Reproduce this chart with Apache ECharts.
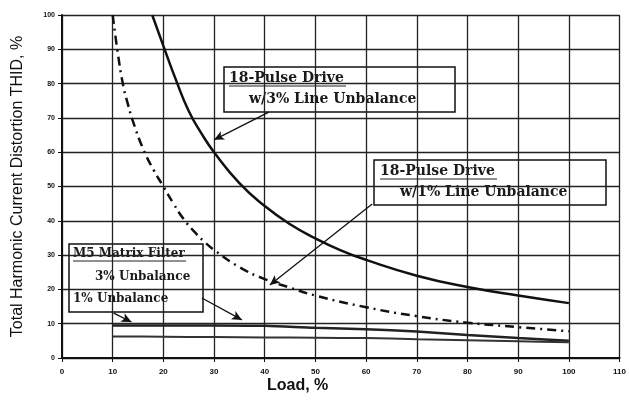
<!DOCTYPE html>
<html>
<head>
<meta charset="utf-8">
<script src="https://cdn.jsdelivr.net/npm/echarts@6/dist/echarts.min.js"></script>
<style>
html,body{margin:0;padding:0;background:#fff;}
#c{width:629px;height:402px;}
</style>
</head>
<body>
<div id="c"></div>
<script>
// ---- data ----
const xTicks = [0,10,20,30,40,50,60,70,80,90,100,110];
const yTicks = [0,10,20,30,40,50,60,70,80,90,100];

// 18-Pulse Drive w/3% Line Unbalance (solid)
const load3 = [17.8,20,22.5,25,27.5,30,35,40,45,50,55,60,70,80,90,100];
const thid3 = [100,91,81,72,65.5,60,51,44.3,39,34.9,31.4,28.6,24,20.7,18.2,16];

// 18-Pulse Drive w/1% Line Unbalance (dash-dot)
const load1 = [10,11,12,13,14,16,18,20,22,24,26,28,30,35,40,45,50,60,70,80,90,100];
const thid1 = [100,89,80,74,69,61,55,50,45,40.5,37,34,31.5,26.5,23,20.5,18.2,14.8,12.2,10.3,9,7.8];

// M5 Matrix Filter
const loadM5 = [10,20,30,40,50,60,70,80,90,100];
const m5_3 = [9.5,9.5,9.5,9.4,8.8,8.4,7.7,6.7,5.8,5.0];
const m5_1 = [6.3,6.2,6.1,6.0,5.9,5.8,5.5,5.2,4.9,4.6];

// annotation arrows [fromLoad, fromTHID, toLoad, toTHID]
const arrows = [
  [40.8,71.7,30,63.6],
  [61.2,44.9,41,21.3],
  [27.6,17.5,35.5,11.1],
  [10.2,13.1,13.7,10.5]
];

const pairs = (xs, ys) => xs.map((x,i)=>[x, ys[i]]);

const chart = echarts.init(document.getElementById('c'), null, {renderer:'canvas'});
const serif = '"DejaVu Serif", serif';

function box(x,y,w,h,lines){
  const children = [{type:'rect', shape:{x:0,y:0,width:w,height:h},
    style:{fill:'#fff', stroke:'#111', lineWidth:1.5}}];
  lines.forEach(l=>{
    children.push({type:'text', x:l.x, y:l.y, style:{text:l.t, font:'bold '+l.s+'px '+serif, fill:'#1a1a1a', textVerticalAlign:'top'}});
    if(l.u){children.push({type:'line', shape:{x1:l.x,y1:l.y+l.s+1,x2:l.x+l.u,y2:l.y+l.s+1}, style:{stroke:'#222', lineWidth:1}});}
  });
  return {type:'group', x:x, y:y, z:100, children:children};
}

const option = {
  animation:false,
  backgroundColor:'#fff',
  grid:{left:62, right:6, top:15, bottom:44},
  xAxis:{type:'value', min:0, max:110, interval:10,
    axisLine:{lineStyle:{color:'#111', width:2}},
    axisTick:{show:true, length:4, lineStyle:{color:'#111'}},
    axisLabel:{color:'#111', fontSize:8, fontWeight:'bold', fontFamily:'Liberation Sans', margin:10},
    splitLine:{show:true, lineStyle:{color:'#222', width:1.3}}},
  yAxis:{type:'value', min:0, max:100, interval:10,
    name:'Total Harmonic Current Distortion THID, %', nameLocation:'middle', nameGap:36,
    nameTextStyle:{color:'#111', fontSize:16, fontFamily:'Liberation Sans'},
    axisLine:{show:true, lineStyle:{color:'#111', width:2}},
    axisTick:{show:true, length:4, lineStyle:{color:'#111'}},
    axisLabel:{color:'#111', fontSize:7, fontWeight:'bold', fontFamily:'Liberation Sans', margin:7},
    splitLine:{show:true, lineStyle:{color:'#222', width:1.3}}},
  series:[
    {type:'line', data:pairs(load3,thid3), smooth:0.5, symbol:'none',
      lineStyle:{color:'#111', width:2.5}, z:5,
      markLine:{silent:true, symbol:['none','arrow'], symbolSize:[7,10], label:{show:false},
        lineStyle:{color:'#111', width:1.3, type:'solid'},
        data: arrows.map(a=>[{coord:[a[0],a[1]]},{coord:[a[2],a[3]]}])}},
    {type:'line', data:pairs(load1,thid1), smooth:0.5, symbol:'none',
      lineStyle:{color:'#111', width:2.5, type:[9,5,2,5]}, z:5},
    {type:'line', data:pairs(loadM5,m5_3), smooth:0.3, symbol:'none',
      lineStyle:{color:'#222', width:2.5}, z:4},
    {type:'line', data:pairs(loadM5,m5_1), smooth:0.3, symbol:'none',
      lineStyle:{color:'#333', width:2}, z:4}
  ],
  graphic:[
    {type:'text', left:267, top:378, z:100, style:{text:'Load, %', font:'bold 16px "Liberation Sans"', fill:'#111'}},
    box(224,67,231,45,[{t:'18-Pulse Drive', x:5, y:4, s:14, u:117},{t:'w/3% Line Unbalance', x:25, y:25, s:14}]),
    box(374,160,232,45,[{t:'18-Pulse Drive', x:6, y:4, s:14, u:117},{t:'w/1% Line Unbalance', x:26, y:25, s:14}]),
    box(69,244,134,68,[{t:'M5 Matrix Filter', x:4, y:4, s:12, u:113},{t:'3% Unbalance', x:26, y:27, s:12},{t:'1% Unbalance', x:4, y:49, s:12}])
  ]
};
chart.setOption(option);
</script>
</body>
</html>
